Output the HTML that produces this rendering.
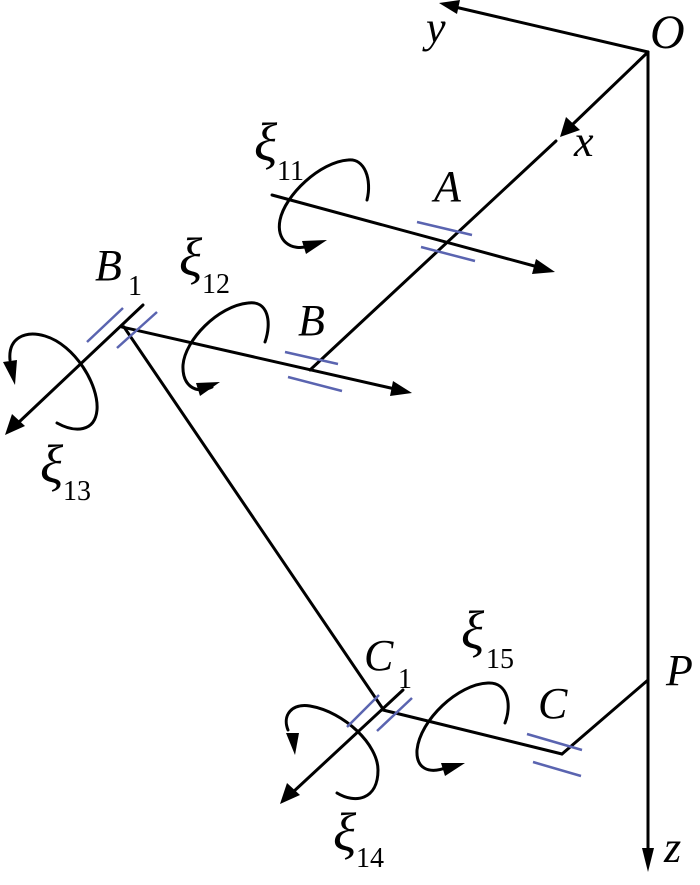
<!DOCTYPE html>
<html><head><meta charset="utf-8"><style>
html,body{margin:0;padding:0;background:#fff;}
svg{display:block;}
text{font-family:"Liberation Serif",serif;font-style:italic;fill:#000;}
.s{font-style:normal;}
</style></head><body>
<svg width="700" height="885" viewBox="0 0 700 885" xmlns="http://www.w3.org/2000/svg">
<g stroke="#000" stroke-width="3" fill="none" stroke-linecap="round">
<line x1="648" y1="52" x2="455" y2="7"/>
<line x1="648" y1="52" x2="648" y2="858"/>
<line x1="648" y1="52" x2="572" y2="125"/>
<line x1="556" y1="141" x2="310" y2="370"/>
<line x1="272" y1="195" x2="538" y2="267"/>
<line x1="122" y1="327" x2="395" y2="389"/>
<line x1="143" y1="305" x2="18" y2="423"/>
<line x1="124" y1="327" x2="383" y2="709"/>
<line x1="403" y1="690" x2="292" y2="793"/>
<line x1="383" y1="710" x2="562" y2="754"/>
<line x1="562" y1="754" x2="648" y2="680"/>
<path d="M367,200 C372,180 365,158 348,160 C320,162 285,195 280,220 C276,240 290,252 310,246"/>
<path d="M265,342 C272,322 268,300 248,303 C218,306 185,340 183,365 C182,385 195,395 212,387"/>
<path d="M57,423 C75,433 95,432 97,410 C99,385 75,345 45,336 C25,330 8,338 10,360"/>
<path d="M337,793 C355,804 378,800 378,770 C378,745 345,712 310,706 C292,703 282,715 288,730"/>
<path d="M505,723 C512,705 508,682 488,683 C458,684 420,720 417,750 C416,768 428,775 448,767"/>
</g>
<g fill="#000">
<polygon points="439,3 460,0 457,14"/>
<polygon points="648,872 642,848 654,848"/>
<polygon points="560,137 566,117 580,130"/>
<polygon points="555,272 532,274 536,259"/>
<polygon points="412,393 390,396 393,381"/>
<polygon points="5,435 12,414 25,426"/>
<polygon points="280,804 287,783 300,795"/>
<polygon points="327,240 306,254 302,241"/>
<polygon points="220,382 200,396 196,383"/>
<polygon points="15,385 3,362 17,360"/>
<polygon points="295,755 286,733 299,733"/>
<polygon points="465,763 445,776 441,763"/>
</g>
<g stroke="#5a64b0" stroke-width="2.5">
<line x1="417" y1="222" x2="472" y2="235"/>
<line x1="421" y1="247" x2="475" y2="261"/>
<line x1="285" y1="352" x2="338" y2="364"/>
<line x1="288" y1="377" x2="342" y2="391"/>
<line x1="87" y1="342" x2="123" y2="308"/>
<line x1="117" y1="348" x2="157" y2="312"/>
<line x1="347" y1="727" x2="379" y2="695"/>
<line x1="377" y1="731" x2="412" y2="698"/>
<line x1="527" y1="734" x2="582" y2="750"/>
<line x1="533" y1="762" x2="581" y2="776"/>
</g>
<text x="650" y="48" font-size="48">O</text>
<text x="426" y="42" font-size="44">y</text>
<text x="574" y="156" font-size="44">x</text>
<text x="664" y="862" font-size="44">z</text>
<text x="666" y="685" font-size="44">P</text>
<text x="434" y="201" font-size="44">A</text>
<text x="298" y="335" font-size="44">B</text>
<text x="95" y="280" font-size="44">B</text>
<text class="s" x="128" y="295" font-size="28">1</text>
<text x="538" y="718" font-size="44">C</text>
<text x="364" y="670" font-size="44">C</text>
<text class="s" x="398" y="688" font-size="28">1</text>
<text x="254" y="160" font-size="54">ξ</text><text class="s" x="277" y="180" font-size="28">11</text>
<text x="179" y="275" font-size="54">ξ</text><text class="s" x="202" y="293" font-size="28">12</text>
<text x="40" y="482" font-size="54">ξ</text><text class="s" x="63" y="500" font-size="28">13</text>
<text x="333" y="850" font-size="54">ξ</text><text class="s" x="356" y="867" font-size="28">14</text>
<text x="461" y="648" font-size="54">ξ</text><text class="s" x="486" y="668" font-size="28">15</text>
</svg>
</body></html>
